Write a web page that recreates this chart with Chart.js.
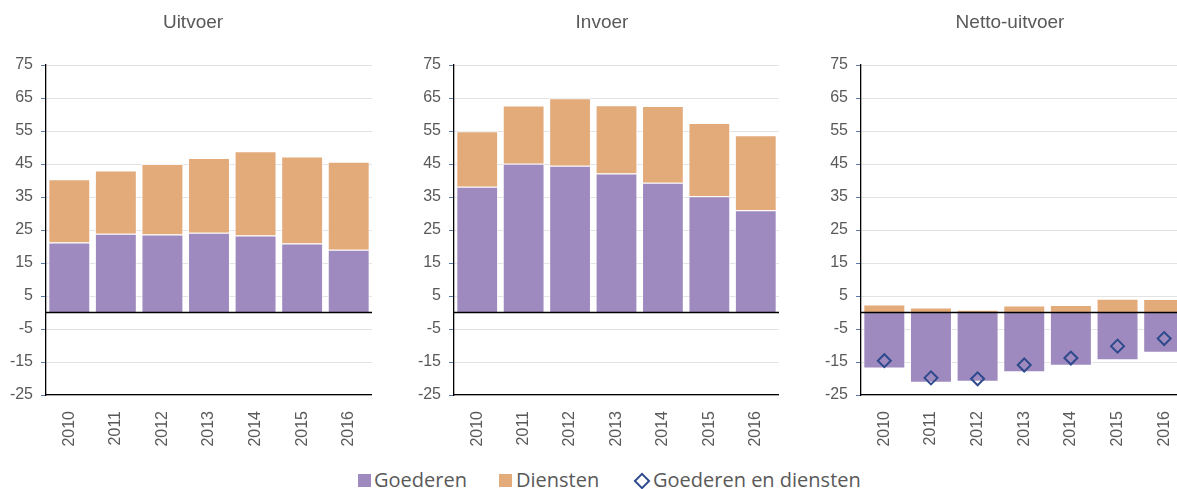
<!DOCTYPE html>
<html>
<head>
<meta charset="utf-8">
<script src="https://cdn.jsdelivr.net/npm/chart.js@4.4.1/dist/chart.umd.min.js"></script>
<style>
  html, body { margin: 0; overflow: hidden; }
  body { background: #fff; width: 1177px; height: 489px; position: relative; font-family: "Liberation Sans", Arial, sans-serif; }
  .panel { position: absolute; top: 0; height: 455px; }
  .title { position: absolute; top: 10px; width: 200px; text-align: center; font-size: 19px; line-height: 24px; color: #595959; }
  .legend { position: absolute; top: 468px; left: 0; width: 1177px; height: 24px; font-family: "Open Sans", "Liberation Sans", sans-serif; font-size: 20px; color: #595959; }
  .legend span { position: absolute; top: 0; line-height: 24px; }
  .sw { width: 13px; height: 13px; top: 6px !important; }
  .dia { width: 8px; height: 8px; border: 2px solid #2e4a8c; transform: rotate(45deg); top: 7px !important; }
</style>
</head>
<body>
<div class="panel" style="left:0;width:372px"><canvas id="c1"></canvas></div>
<div class="panel" style="left:408px;width:371px"><canvas id="c2"></canvas></div>
<div class="panel" style="left:815px;width:381px"><canvas id="c3"></canvas></div>
<div class="title" style="left:93px">Uitvoer</div>
<div class="title" style="left:502px">Invoer</div>
<div class="title" style="left:910px">Netto-uitvoer</div>
<div class="legend">
  <span class="sw" style="left:358px;background:#9e8abe"></span>
  <span style="left:374px">Goederen</span>
  <span class="sw" style="left:499px;background:#e3aa7a"></span>
  <span style="left:516px">Diensten</span>
  <span class="dia" style="left:636px"></span>
  <span style="left:653px">Goederen en diensten</span>
</div>
<script>
const years = ["2010", "2011", "2012", "2013", "2014", "2015", "2016"];

const uitvoerGoederen = [21.2, 23.9, 23.6, 24.2, 23.3, 20.9, 19.0];
const uitvoerDiensten = [19.2, 19.1, 21.4, 22.6, 25.6, 26.4, 26.7];

const invoerGoederen = [38.1, 45.1, 44.5, 42.1, 39.3, 35.2, 31.0];
const invoerDiensten = [16.8, 17.6, 20.4, 20.7, 23.3, 22.2, 22.7];

const nettoGoederen = [-17.0, -21.3, -21.0, -18.1, -16.1, -14.5, -12.2];
const nettoDiensten = [2.4, 1.5, 0.8, 2.1, 2.3, 4.2, 4.1];
const nettoTotaal = [-14.6, -19.8, -20.1, -15.9, -13.8, -10.2, -7.9];

const yMin = -25;
const yMax = 75;
const yStep = 10;

const purple = "#9e8abe";
const orange = "#e3aa7a";
const tickText = "#595959";

// zero line across the plot, placed with the y scale
const zeroLine = {
  id: "zeroLine",
  afterDatasetsDraw(chart) {
    const y = chart.scales.y.getPixelForValue(0);
    const ctx = chart.ctx;
    ctx.save();
    ctx.strokeStyle = "#000";
    ctx.lineWidth = 1.3;
    ctx.beginPath();
    ctx.moveTo(chart.chartArea.left, y);
    ctx.lineTo(chart.chartArea.right, y);
    ctx.stroke();
    ctx.restore();
  }
};

function barSet(label, data, color) {
  return {
    type: "bar",
    label,
    data,
    backgroundColor: color,
    borderColor: "rgba(255,255,255,0.7)",
    borderWidth: 1,
    stack: "s",
    categoryPercentage: 0.9,
    barPercentage: 1,
    order: 2
  };
}

function makeChart(id, datasets) {
  new Chart(document.getElementById(id), {
    data: { labels: years, datasets },
    options: {
      responsive: true,
      maintainAspectRatio: false,
      animation: false,
      layout: { padding: { top: 65, left: 0, right: 0, bottom: 0 } },
      plugins: {
        legend: { display: false },
        tooltip: { enabled: false }
      },
      scales: {
        x: {
          stacked: true,
          grid: { display: false },
          border: { display: true, color: "#000", width: 1.3 },
          ticks: {
            color: tickText,
            font: { family: "Liberation Sans", size: 16 },
            minRotation: 90,
            maxRotation: 90,
            padding: 8
          },
          afterFit: (s) => {
            s.height = 60;
            s.paddingLeft = 0;
            s.paddingRight = 0;
          }
        },
        y: {
          stacked: true,
          min: yMin,
          max: yMax,
          grid: { color: "#e3e3e3", tickColor: "#5a78a8", tickLength: 5 },
          border: { display: true, color: "#000", width: 1.3 },
          ticks: {
            stepSize: yStep,
            color: tickText,
            font: { family: "Liberation Sans", size: 16 },
            padding: 8
          },
          afterFit: (s) => { s.width = 46; }
        }
      }
    },
    plugins: [zeroLine]
  });
}

makeChart("c1", [
  barSet("Goederen", uitvoerGoederen, purple),
  barSet("Diensten", uitvoerDiensten, orange)
]);

makeChart("c2", [
  barSet("Goederen", invoerGoederen, purple),
  barSet("Diensten", invoerDiensten, orange)
]);

makeChart("c3", [
  {
    type: "line",
    label: "Goederen en diensten",
    data: nettoTotaal,
    showLine: false,
    pointStyle: "rectRot",
    pointRadius: 6.5,
    pointBorderWidth: 2,
    pointBorderColor: "#2e4a8c",
    pointBackgroundColor: "rgba(0,0,0,0)",
    order: 1
  },
  barSet("Goederen", nettoGoederen, purple),
  barSet("Diensten", nettoDiensten, orange)
]);
</script>
</body>
</html>
